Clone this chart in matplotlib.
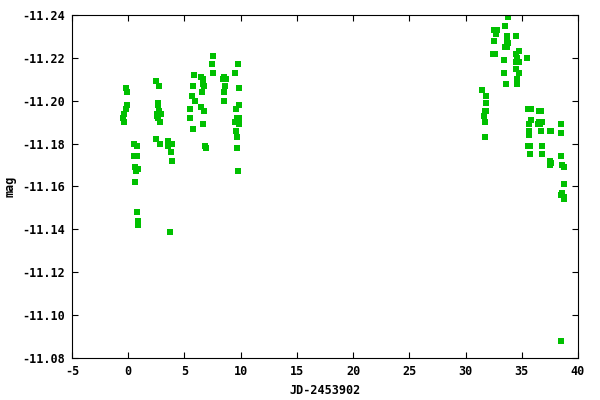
import matplotlib
matplotlib.use('Agg')
import matplotlib.pyplot as plt
import numpy as np

# JD-2453902 and magnitude
jd = [
    -0.17, -0.08, -0.12, -0.17, -0.35, -0.44, -0.35,
    0.54, 0.81, 0.54, 0.75, 0.63, 0.84, 0.72, 0.63, 0.81, 0.90, 0.90,
    2.50, 2.76, 2.68, 2.68, 2.76, 2.56, 2.94, 2.56, 2.65, 2.85, 2.50, 2.85,
    3.57, 3.92, 3.57, 3.83, 3.92, 3.74,
    5.88, 5.79, 5.70, 5.97, 5.52, 5.52, 5.79,
    6.50, 6.68, 6.68, 6.77, 6.59, 6.50, 6.77, 6.68, 6.85, 6.94,
    7.57, 7.48, 7.57,
    8.55, 8.46, 8.72, 8.63, 8.55, 8.55,
    9.79, 9.52, 9.88, 9.88, 9.61, 9.88, 9.70, 9.52, 9.88, 9.61, 9.70, 9.70, 9.79,
    31.49, 31.85, 31.85, 31.76, 31.85, 31.67, 31.76, 31.76,
    33.80, 33.54, 32.56, 32.83, 32.74, 32.56, 33.72, 33.72, 34.52, 33.48,
    33.80, 33.72, 32.47, 32.65, 34.78, 34.52, 34.61, 35.49, 33.45, 34.52,
    34.78, 34.52, 33.45, 34.78, 34.61, 33.63, 34.61,
    35.58, 35.85, 36.56, 36.74, 35.85, 35.67, 36.56, 36.83, 36.47, 36.65,
    36.74, 35.67, 35.67, 35.67, 37.54, 37.63, 38.52, 38.52, 35.58, 35.76,
    36.83, 35.76, 36.83, 38.52, 37.54, 37.63, 37.54, 38.61, 38.78, 38.78,
    38.61, 38.52, 38.78, 38.78, 38.52,
]
mag = [
    -11.206, -11.204, -11.198, -11.196, -11.194, -11.192, -11.190,
    -11.180, -11.179, -11.174, -11.174, -11.169, -11.168, -11.167, -11.162, -11.148, -11.144, -11.142,
    -11.209, -11.207, -11.199, -11.198, -11.195, -11.194, -11.194, -11.193, -11.192, -11.190, -11.182, -11.180,
    -11.181, -11.180, -11.179, -11.176, -11.172, -11.139,
    -11.212, -11.207, -11.202, -11.200, -11.196, -11.192, -11.187,
    -11.211, -11.210, -11.208, -11.207, -11.204, -11.197, -11.195, -11.189, -11.179, -11.178,
    -11.221, -11.217, -11.213,
    -11.211, -11.210, -11.210, -11.207, -11.204, -11.200,
    -11.217, -11.213, -11.206, -11.198, -11.196, -11.192, -11.192, -11.190, -11.189, -11.186, -11.183, -11.178, -11.167,
    -11.205, -11.202, -11.199, -11.195, -11.195, -11.193, -11.190, -11.183,
    -11.239, -11.235, -11.233, -11.233, -11.231, -11.228, -11.230, -11.228, -11.230, -11.225,
    -11.227, -11.225, -11.222, -11.222, -11.223, -11.222, -11.220, -11.220, -11.219, -11.218,
    -11.218, -11.215, -11.213, -11.213, -11.210, -11.208, -11.208,
    -11.196, -11.196, -11.195, -11.195, -11.191, -11.189, -11.190, -11.190, -11.189, -11.189,
    -11.186, -11.186, -11.185, -11.184, -11.186, -11.186, -11.189, -11.185, -11.179, -11.179,
    -11.179, -11.175, -11.175, -11.174, -11.172, -11.171, -11.170, -11.170, -11.169, -11.161,
    -11.157, -11.156, -11.155, -11.154, -11.088,
]

xticks = np.arange(-5, 41, 5)
yticks = np.arange(-11.24, -11.079, 0.02)

font = dict(family='DejaVu Sans Mono', size=8.5, weight='bold')

fig = plt.figure(figsize=(6, 4), dpi=100)
ax = fig.add_axes([0.12, 0.105, 0.8433, 0.8575])
ax.plot(jd, mag, 's', color='#00c000', ms=4.3, mew=0)

ax.set_xlim(-5, 40)
ax.set_ylim(-11.08, -11.24)
ax.set_xticks(xticks)
ax.set_yticks(yticks)
ax.set_xticklabels([str(t) for t in xticks], fontdict=font)
ax.set_yticklabels(['%.2f' % t for t in yticks], fontdict=font)
ax.tick_params(direction='in', top=True, right=True, length=4, width=0.8, pad=5)
for s in ax.spines.values():
    s.set_linewidth(0.8)

ax.set_xlabel('JD-2453902', fontdict=font, labelpad=4)
ax.set_ylabel('mag', fontdict=font, labelpad=4)

fig.savefig('out.png', dpi=100)
